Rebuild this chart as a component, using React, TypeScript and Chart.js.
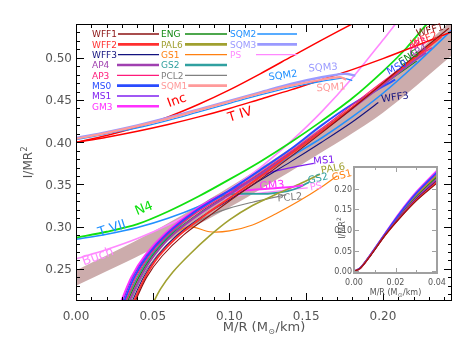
import React, { useEffect, useRef } from 'react';
import { Chart, registerables } from 'chart.js';
Chart.register(...registerables);

type P = [number, number];

// ---------- tick labels ----------
const X_TICK_LABELS = ['0.00', '0.05', '0.10', '0.15', '0.20'];
const Y_TICK_LABELS = ['0.25', '0.30', '0.35', '0.40', '0.45', '0.50'];
const INSET_X_TICK_LABELS = ['0.00', '0.02', '0.04'];
const INSET_Y_TICK_LABELS = ['0.00', '0.05', '0.10', '0.15', '0.20'];

// ---------- analytic / fit curves (x = M/R, y = I/MR^2) ----------
const INC: P[] = [[0, 0.400], [0.02, 0.408], [0.04, 0.418], [0.06, 0.430], [0.08, 0.445], [0.10, 0.462], [0.12, 0.481], [0.14, 0.501], [0.16, 0.521], [0.182, 0.542]];
const TIV: P[] = [[0, 0.400], [0.02, 0.406], [0.04, 0.413], [0.06, 0.421], [0.08, 0.430], [0.10, 0.440], [0.12, 0.451], [0.14, 0.462], [0.16, 0.474], [0.18, 0.486], [0.20, 0.499], [0.22, 0.513], [0.245, 0.531]];
const N4: P[] = [[0, 0.287], [0.02, 0.294], [0.04, 0.303], [0.06, 0.318], [0.08, 0.336], [0.10, 0.356], [0.12, 0.377], [0.14, 0.400], [0.16, 0.425], [0.18, 0.452], [0.20, 0.484], [0.215, 0.511], [0.229, 0.541]];
const TVII: P[] = [[0, 0.285], [0.02, 0.291], [0.04, 0.299], [0.06, 0.310], [0.08, 0.324], [0.10, 0.341], [0.12, 0.361], [0.14, 0.383], [0.16, 0.405], [0.18, 0.430], [0.20, 0.458], [0.22, 0.490], [0.245, 0.533]];
const BUCH: P[] = [[0, 0.262], [0.02, 0.273], [0.04, 0.286], [0.06, 0.302], [0.08, 0.321], [0.10, 0.344], [0.12, 0.370], [0.14, 0.401], [0.16, 0.436], [0.18, 0.476], [0.20, 0.521], [0.209, 0.542]];
const BAND_LO: P[] = [[0, 0.230], [0.05, 0.274], [0.10, 0.323], [0.15, 0.377], [0.20, 0.435], [0.245, 0.503]];
const BAND_HI: P[] = [[0, 0.248], [0.05, 0.294], [0.10, 0.347], [0.15, 0.405], [0.20, 0.470], [0.245, 0.545]];

// ---------- strange quark stars ----------
const SQM1: P[] = [[0, 0.404], [0.02, 0.411], [0.04, 0.419], [0.06, 0.428], [0.08, 0.438], [0.10, 0.448], [0.12, 0.458], [0.14, 0.467], [0.16, 0.474], [0.172, 0.477], [0.176, 0.474]];
const SQM2: P[] = [[0, 0.403], [0.02, 0.410], [0.04, 0.417], [0.06, 0.426], [0.08, 0.436], [0.10, 0.446], [0.12, 0.456], [0.14, 0.465], [0.16, 0.472], [0.174, 0.476], [0.180, 0.473]];
const SQM3: P[] = [[0, 0.405], [0.02, 0.412], [0.04, 0.420], [0.06, 0.429], [0.08, 0.439], [0.10, 0.449], [0.12, 0.459], [0.14, 0.469], [0.16, 0.477], [0.175, 0.481], [0.182, 0.479]];

// ---------- neutron star EOS ----------
const WFF1: P[] = [[0.037, 0.205], [0.046, 0.240], [0.056, 0.265], [0.070, 0.290], [0.087, 0.313], [0.102, 0.333], [0.120, 0.356], [0.140, 0.383], [0.160, 0.411], [0.180, 0.440], [0.200, 0.470], [0.220, 0.501], [0.243, 0.535]];
const WFF2: P[] = [[0.036, 0.205], [0.045, 0.240], [0.054, 0.265], [0.068, 0.291], [0.085, 0.315], [0.101, 0.335], [0.120, 0.359], [0.140, 0.386], [0.160, 0.413], [0.180, 0.441], [0.200, 0.470], [0.220, 0.499], [0.238, 0.525]];
const WFF3: P[] = [[0.035, 0.205], [0.044, 0.240], [0.053, 0.265], [0.066, 0.290], [0.083, 0.313], [0.100, 0.332], [0.120, 0.355], [0.140, 0.377], [0.160, 0.400], [0.180, 0.424], [0.197, 0.447]];
const AP4: P[] = [[0.033, 0.205], [0.042, 0.240], [0.051, 0.266], [0.064, 0.292], [0.082, 0.317], [0.100, 0.338], [0.120, 0.362], [0.140, 0.387], [0.160, 0.413], [0.180, 0.440], [0.200, 0.468], [0.220, 0.496], [0.228, 0.506]];
const AP3: P[] = [[0.031, 0.205], [0.039, 0.240], [0.048, 0.266], [0.061, 0.292], [0.079, 0.317], [0.100, 0.340], [0.120, 0.364], [0.140, 0.389], [0.160, 0.416], [0.180, 0.444], [0.200, 0.472], [0.220, 0.499], [0.232, 0.512]];
const MS0: P[] = [[0.030, 0.205], [0.038, 0.240], [0.047, 0.266], [0.060, 0.292], [0.078, 0.318], [0.100, 0.343], [0.120, 0.367], [0.140, 0.392], [0.160, 0.420], [0.180, 0.445], [0.200, 0.466], [0.208, 0.474]];
const MS1: P[] = [[0.029, 0.205], [0.037, 0.240], [0.046, 0.266], [0.059, 0.292], [0.077, 0.318], [0.095, 0.338], [0.105, 0.347], [0.115, 0.356], [0.126, 0.364], [0.140, 0.370], [0.155, 0.375]];
const GM3: P[] = [[0.028, 0.205], [0.036, 0.240], [0.045, 0.266], [0.058, 0.292], [0.076, 0.318], [0.095, 0.338], [0.110, 0.343], [0.125, 0.345], [0.140, 0.347], [0.148, 0.349]];
const ENG: P[] = [[0.032, 0.205], [0.041, 0.240], [0.050, 0.266], [0.063, 0.292], [0.081, 0.317], [0.100, 0.339], [0.120, 0.363], [0.140, 0.388], [0.160, 0.414], [0.180, 0.441], [0.200, 0.468], [0.222, 0.496]];
const PAL6: P[] = [[0.049, 0.205], [0.055, 0.226], [0.063, 0.246], [0.074, 0.267], [0.087, 0.289], [0.100, 0.308], [0.115, 0.325], [0.130, 0.338], [0.145, 0.350], [0.159, 0.362]];
const GS1: P[] = [[0.032, 0.205], [0.041, 0.240], [0.050, 0.265], [0.063, 0.290], [0.074, 0.300], [0.087, 0.294], [0.100, 0.295], [0.115, 0.302], [0.130, 0.315], [0.145, 0.330], [0.160, 0.347], [0.170, 0.360]];
const GS2: P[] = [[0.031, 0.205], [0.040, 0.240], [0.049, 0.266], [0.062, 0.292], [0.078, 0.318], [0.088, 0.332], [0.098, 0.338], [0.110, 0.339], [0.125, 0.339], [0.138, 0.342], [0.146, 0.347], [0.152, 0.353]];
const PCL2: P[] = [[0.034, 0.205], [0.043, 0.240], [0.052, 0.264], [0.064, 0.287], [0.076, 0.302], [0.088, 0.314], [0.100, 0.322], [0.115, 0.329], [0.130, 0.335], [0.137, 0.338]];
const PS: P[] = [[0.030, 0.205], [0.038, 0.240], [0.047, 0.266], [0.060, 0.292], [0.078, 0.316], [0.095, 0.332], [0.110, 0.338], [0.125, 0.341], [0.140, 0.344], [0.151, 0.346]];

// ---------- inset (low compactness) ----------
const INSET_X = [0, 0.003, 0.008, 0.015, 0.022, 0.030, 0.040];
const IN_GM3 = [0, 0.008, 0.041, 0.092, 0.142, 0.192, 0.244];
const IN_PS = [0, 0.008, 0.041, 0.092, 0.141, 0.190, 0.242];
const IN_MS0 = [0, 0.008, 0.041, 0.091, 0.140, 0.189, 0.240];
const IN_MS1 = [0, 0.008, 0.040, 0.091, 0.138, 0.187, 0.237];
const IN_GS1 = [0, 0.008, 0.040, 0.090, 0.137, 0.185, 0.235];
const IN_GS2 = [0, 0.008, 0.040, 0.090, 0.136, 0.184, 0.233];
const IN_PAL6 = [0, 0.008, 0.040, 0.089, 0.135, 0.182, 0.230];
const IN_ENG = [0, 0.008, 0.040, 0.089, 0.134, 0.180, 0.228];
const IN_PCL2 = [0, 0.008, 0.040, 0.089, 0.133, 0.179, 0.226];
const IN_AP4 = [0, 0.007, 0.039, 0.088, 0.132, 0.177, 0.224];
const IN_AP3 = [0, 0.007, 0.039, 0.088, 0.131, 0.176, 0.222];
const IN_WFF3 = [0, 0.007, 0.039, 0.088, 0.130, 0.174, 0.219];
const IN_WFF2 = [0, 0.007, 0.039, 0.087, 0.129, 0.172, 0.216];
const IN_WFF1 = [0, 0.007, 0.038, 0.087, 0.128, 0.170, 0.213];

// ---------- styles ----------
const STYLE: Record<string, { color: string; width: number }> = {
  WFF1: { color: '#8b1212', width: 1.1 },
  WFF2: { color: '#ff3030', width: 2.0 },
  WFF3: { color: '#12127f', width: 1.1 },
  AP4: { color: '#a040b0', width: 2.0 },
  AP3: { color: '#ff1a7a', width: 1.1 },
  MS0: { color: '#2a4bff', width: 2.0 },
  MS1: { color: '#8020f0', width: 1.2 },
  GM3: { color: '#ff30ff', width: 2.0 },
  ENG: { color: '#128a12', width: 1.1 },
  PAL6: { color: '#a0a030', width: 1.6 },
  GS1: { color: '#ff8010', width: 1.2 },
  GS2: { color: '#30a0a0', width: 1.8 },
  PCL2: { color: '#808080', width: 1.1 },
  SQM1: { color: '#ff9a9a', width: 2.2 },
  SQM2: { color: '#2090ff', width: 1.3 },
  SQM3: { color: '#9a9aff', width: 2.4 },
  PS: { color: '#ff88ff', width: 1.2 },
};

const EOS_MAIN: [string, P[]][] = [
  ['WFF1', WFF1], ['WFF2', WFF2], ['WFF3', WFF3], ['AP4', AP4], ['AP3', AP3], ['MS0', MS0], ['MS1', MS1], ['GM3', GM3],
  ['ENG', ENG], ['PAL6', PAL6], ['GS1', GS1], ['GS2', GS2], ['PCL2', PCL2], ['PS', PS],
  ['SQM1', SQM1], ['SQM2', SQM2], ['SQM3', SQM3],
];
const EOS_INSET: [string, number[]][] = [
  ['WFF1', IN_WFF1], ['WFF2', IN_WFF2], ['WFF3', IN_WFF3], ['AP4', IN_AP4], ['AP3', IN_AP3], ['MS0', IN_MS0], ['MS1', IN_MS1], ['GM3', IN_GM3],
  ['ENG', IN_ENG], ['PAL6', IN_PAL6], ['GS1', IN_GS1], ['GS2', IN_GS2], ['PCL2', IN_PCL2], ['PS', IN_PS],
];

const LEGEND_COLUMNS = [
  ['WFF1', 'WFF2', 'WFF3', 'AP4', 'AP3', 'MS0', 'MS1', 'GM3'],
  ['ENG', 'PAL6', 'GS1', 'GS2', 'PCL2', 'SQM1'],
  ['SQM2', 'SQM3', 'PS'],
];
const LEGEND_LAYOUT = { colX: [92, 161, 230], lineStart: [117, 185, 256], lineEnd: [159, 227, 297], row0: 34, rowStep: 10.33 };
const LEGEND_WIDTH: Record<string, number> = { WFF2: 2.6, AP4: 2.6, MS0: 2.6, GM3: 2.6, PAL6: 2.6, GS2: 2.6, SQM1: 2.6, SQM3: 2.6 };

// in-plot labels (data coordinates)
const ANNOTATIONS = [
  { text: 'Inc', x: 0.0658, y: 0.449, rot: -20, color: '#ff0000', size: 13 },
  { text: 'T IV', x: 0.1069, y: 0.4325, rot: -17, color: '#ff0000', size: 13 },
  { text: 'SQM2', x: 0.1349, y: 0.4787, rot: -8, color: '#2090ff', size: 10 },
  { text: 'SQM3', x: 0.161, y: 0.488, rot: -4, color: '#9a9aff', size: 10 },
  { text: 'SQM1', x: 0.1662, y: 0.4645, rot: -4, color: '#ff9a9a', size: 10 },
  { text: 'N4', x: 0.0443, y: 0.3212, rot: -22, color: '#10e010', size: 13 },
  { text: 'T VII', x: 0.0235, y: 0.2975, rot: -18, color: '#2090ff', size: 13 },
  { text: 'Buch', x: 0.0143, y: 0.2643, rot: -20, color: '#ff88ff', size: 13 },
  { text: 'MS1', x: 0.1616, y: 0.378, rot: -5, color: '#8020f0', size: 10 },
  { text: 'PAL6', x: 0.1675, y: 0.3685, rot: -10, color: '#a0a030', size: 10 },
  { text: 'GS1', x: 0.1733, y: 0.3603, rot: -14, color: '#ff8010', size: 10 },
  { text: 'GS2', x: 0.1577, y: 0.3567, rot: -14, color: '#30a0a0', size: 10 },
  { text: 'PS', x: 0.1564, y: 0.3472, rot: -10, color: '#ff88ff', size: 10 },
  { text: 'GM3', x: 0.1277, y: 0.3484, rot: -5, color: '#ff30ff', size: 11 },
  { text: 'PCL2', x: 0.1394, y: 0.3342, rot: -5, color: '#808080', size: 10 },
  { text: 'WFF1', x: 0.2307, y: 0.532, rot: -15, color: '#8b1212', size: 10 },
  { text: 'WFF2', x: 0.2268, y: 0.5213, rot: -20, color: '#ff3030', size: 10 },
  { text: 'AP3', x: 0.2228, y: 0.5154, rot: -28, color: '#ff1a7a', size: 10 },
  { text: 'AP4', x: 0.2228, y: 0.5071, rot: -28, color: '#a040b0', size: 10 },
  { text: 'ENG', x: 0.217, y: 0.50, rot: -32, color: '#128a12', size: 10 },
  { text: 'MS0', x: 0.2092, y: 0.4882, rot: -28, color: '#2a4bff', size: 10 },
  { text: 'WFF3', x: 0.2079, y: 0.4527, rot: -8, color: '#12127f', size: 10 },
];

const FONT = '"DejaVu Sans", sans-serif';
const TEXT_GREY = '#555555';

const line = (ctx: CanvasRenderingContext2D, x1: number, y1: number, x2: number, y2: number) => {
  ctx.beginPath(); ctx.moveTo(x1, y1); ctx.lineTo(x2, y2); ctx.stroke();
};

const mkLine = (pts: { x: number; y: number }[], color: string, width: number, extra: any = {}) => ({
  data: pts, borderColor: color, backgroundColor: color, borderWidth: width,
  pointRadius: 0, showLine: true, tension: 0.3, fill: false, ...extra,
});
const toXY = (pts: P[]) => pts.map(([x, y]) => ({ x, y }));

const mainDecor = {
  id: 'mainDecor',
  afterDraw(chart: any) {
    const { ctx, chartArea: a } = chart;
    const xs = chart.scales.x, ys = chart.scales.y;
    ctx.save();
    ctx.strokeStyle = '#000'; ctx.lineWidth = 1;
    ctx.strokeRect(a.left + 0.5, a.top + 0.5, a.right - a.left - 1, a.bottom - a.top - 1);
    for (let i = 0; i <= 24; i++) {
      const px = Math.round(xs.getPixelForValue(i / 100)) + 0.5;
      const len = i % 5 === 0 ? 8 : 4;
      line(ctx, px, a.bottom, px, a.bottom - len);
      line(ctx, px, a.top, px, a.top + len);
    }
    for (let i = 22; i <= 54; i++) {
      const py = Math.round(ys.getPixelForValue(i / 100)) + 0.5;
      const len = i % 5 === 0 ? 8 : 4;
      line(ctx, a.left, py, a.left + len, py);
      line(ctx, a.right, py, a.right - len, py);
    }
    ctx.fillStyle = TEXT_GREY;
    ctx.font = `12px ${FONT}`;
    ctx.textAlign = 'center'; ctx.textBaseline = 'alphabetic';
    X_TICK_LABELS.forEach((l) => ctx.fillText(l, xs.getPixelForValue(parseFloat(l)), a.bottom + 18.5));
    ctx.textAlign = 'right';
    Y_TICK_LABELS.forEach((l) => ctx.fillText(l, a.left - 4, ys.getPixelForValue(parseFloat(l)) + 4.4));
    ctx.textAlign = 'left';
    const cx = (a.left + a.right) / 2;
    ctx.font = `13px ${FONT}`;
    const t1 = 'M/R (M', t3 = '/km)';
    const w1 = ctx.measureText(t1).width, w3 = ctx.measureText(t3).width;
    ctx.font = `8px ${FONT}`;
    const w2 = ctx.measureText('\u2299').width + 1;
    const sx = cx - (w1 + w2 + w3) / 2;
    const by = a.bottom + 29.5;
    ctx.font = `13px ${FONT}`; ctx.fillText(t1, sx, by);
    ctx.font = `8px ${FONT}`; ctx.fillText('\u2299', sx + w1 + 0.5, by + 3);
    ctx.font = `13px ${FONT}`; ctx.fillText(t3, sx + w1 + w2, by);
    ctx.save();
    ctx.translate(28, (a.top + a.bottom) / 2);
    ctx.rotate(-Math.PI / 2);
    ctx.font = `12px ${FONT}`;
    const ya = 'I/MR';
    const wa = ctx.measureText(ya).width;
    ctx.font = `8px ${FONT}`;
    const wb = ctx.measureText('2').width;
    ctx.font = `12px ${FONT}`;
    ctx.fillText(ya, -(wa + wb) / 2, 4.4);
    ctx.font = `8px ${FONT}`;
    ctx.fillText('2', -(wa + wb) / 2 + wa + 0.5, -1.5);
    ctx.restore();
    ctx.font = `9px ${FONT}`;
    ctx.textAlign = 'left';
    LEGEND_COLUMNS.forEach((col, ci) => {
      col.forEach((name, ri) => {
        const st = STYLE[name];
        const y = LEGEND_LAYOUT.row0 + ri * LEGEND_LAYOUT.rowStep;
        const x = LEGEND_LAYOUT.colX[ci];
        ctx.fillStyle = st.color;
        ctx.fillText(name, x, y + 3.3);
        const tw = ctx.measureText(name).width;
        ctx.strokeStyle = st.color;
        ctx.lineWidth = LEGEND_WIDTH[name] ?? 1.3;
        const ls = Math.max(LEGEND_LAYOUT.lineStart[ci], x + tw + 1);
        line(ctx, ls, y, LEGEND_LAYOUT.lineEnd[ci], y);
      });
    });
    ctx.textAlign = 'center'; ctx.textBaseline = 'middle';
    ANNOTATIONS.forEach((an) => {
      ctx.save();
      ctx.translate(xs.getPixelForValue(an.x), ys.getPixelForValue(an.y));
      ctx.rotate((an.rot * Math.PI) / 180);
      ctx.font = `${an.size}px ${FONT}`;
      ctx.fillStyle = an.color;
      ctx.fillText(an.text, 0, 0);
      ctx.restore();
    });
    ctx.restore();
  },
};

const insetDecor = {
  id: 'insetDecor',
  beforeDatasetsDraw(chart: any) {
    const { ctx, chartArea: a } = chart;
    ctx.save();
    ctx.fillStyle = '#ffffff';
    ctx.fillRect(a.left, a.top, a.right - a.left, a.bottom - a.top);
    ctx.restore();
  },
  afterDraw(chart: any) {
    const { ctx, chartArea: a } = chart;
    const xs = chart.scales.x, ys = chart.scales.y;
    ctx.save();
    ctx.strokeStyle = '#a0a0a0'; ctx.lineWidth = 2;
    ctx.strokeRect(a.left, a.top, a.right - a.left, a.bottom - a.top);
    ctx.lineWidth = 1;
    for (let i = 0; i <= 4; i++) {
      const px = Math.round(xs.getPixelForValue(i / 100)) + 0.5;
      const len = i % 2 === 0 ? 5 : 3;
      line(ctx, px, a.bottom, px, a.bottom - len);
      line(ctx, px, a.top, px, a.top + len);
    }
    INSET_Y_TICK_LABELS.forEach((l) => {
      const py = Math.round(ys.getPixelForValue(parseFloat(l))) + 0.5;
      line(ctx, a.left, py, a.left + 5, py);
      line(ctx, a.right, py, a.right - 5, py);
    });
    ctx.fillStyle = TEXT_GREY;
    ctx.font = `8px ${FONT}`;
    ctx.textAlign = 'center'; ctx.textBaseline = 'alphabetic';
    INSET_X_TICK_LABELS.forEach((l) => ctx.fillText(l, xs.getPixelForValue(parseFloat(l)), a.bottom + 12));
    ctx.textAlign = 'right';
    INSET_Y_TICK_LABELS.forEach((l) => ctx.fillText(l, a.left - 2, ys.getPixelForValue(parseFloat(l)) + 3));
    ctx.textAlign = 'left';
    const cx = (a.left + a.right) / 2;
    const t1 = 'M/R (M', t3 = '/km)';
    ctx.font = `8px ${FONT}`;
    const w1 = ctx.measureText(t1).width, w3 = ctx.measureText(t3).width;
    ctx.font = `6px ${FONT}`;
    const w2 = ctx.measureText('\u2299').width + 0.5;
    const sx = cx - (w1 + w2 + w3) / 2;
    const by = a.bottom + 22;
    ctx.font = `8px ${FONT}`; ctx.fillText(t1, sx, by);
    ctx.font = `6px ${FONT}`; ctx.fillText('\u2299', sx + w1 + 0.3, by + 2);
    ctx.font = `8px ${FONT}`; ctx.fillText(t3, sx + w1 + w2, by);
    ctx.save();
    ctx.translate(a.left - 12, (a.top + a.bottom) / 2 + 8);
    ctx.rotate(-Math.PI / 2);
    ctx.font = `8px ${FONT}`;
    const wa = ctx.measureText('I/MR').width;
    ctx.fillText('I/MR', -(wa + 4) / 2, 3);
    ctx.font = `6px ${FONT}`;
    ctx.fillText('2', -(wa + 4) / 2 + wa + 0.3, -1);
    ctx.restore();
    ctx.restore();
  },
};

export default function App() {
  const mainRef = useRef<HTMLCanvasElement>(null);
  const insetRef = useRef<HTMLCanvasElement>(null);

  useEffect(() => {
    const eosSets = EOS_MAIN.map(([name, pts]) => mkLine(toXY(pts), STYLE[name].color, STYLE[name].width));
    const otherSets = [
      mkLine(toXY(INC), '#ff0000', 1.5),
      mkLine(toXY(TIV), '#ff0000', 1.5),
      mkLine(toXY(N4), '#10e010', 1.8),
      mkLine(toXY(TVII), '#2090ff', 1.6),
      mkLine(toXY(BUCH), '#ff88ff', 1.6),
    ];
    const base = eosSets.length + otherSets.length;
    const bandSets = [
      mkLine(toXY(BAND_LO), 'rgba(0,0,0,0)', 0, { order: 100, backgroundColor: 'rgb(204,172,172)' }),
      mkLine(toXY(BAND_HI), 'rgba(0,0,0,0)', 0, { order: 100, backgroundColor: 'rgb(204,172,172)', fill: { target: base } }),
    ];
    const main = new Chart(mainRef.current as HTMLCanvasElement, {
      type: 'scatter',
      data: { datasets: [...eosSets, ...otherSets, ...bandSets] as any },
      options: {
        responsive: false,
        animation: false,
        devicePixelRatio: 1,
        events: [],
        layout: { padding: { left: 76, right: 23, top: 24, bottom: 49 } },
        scales: {
          x: { type: 'linear', min: 0, max: 0.245, display: false },
          y: { type: 'linear', min: 0.212, max: 0.540, display: false },
        },
        plugins: {
          legend: { display: false },
          tooltip: { enabled: false },
          filler: { propagate: false, drawTime: 'beforeDatasetsDraw' } as any,
        },
      },
      plugins: [mainDecor],
    });

    const insetSets = EOS_INSET.map(([name, ys]) =>
      mkLine(INSET_X.map((x, i) => ({ x, y: ys[i] })), STYLE[name].color, Math.min(STYLE[name].width, 1.5)));
    const inset = new Chart(insetRef.current as HTMLCanvasElement, {
      type: 'scatter',
      data: { datasets: insetSets as any },
      options: {
        responsive: false,
        animation: false,
        devicePixelRatio: 1,
        events: [],
        layout: { padding: { left: 354, right: 38, top: 167, bottom: 77 } },
        scales: {
          x: { type: 'linear', min: 0, max: 0.04, display: false },
          y: { type: 'linear', min: -0.004, max: 0.252, display: false },
        },
        plugins: { legend: { display: false }, tooltip: { enabled: false } },
      },
      plugins: [insetDecor],
    });
    return () => { main.destroy(); inset.destroy(); };
  }, []);

  return (
    <div style={{ position: 'fixed', left: 0, top: 0, width: 475, height: 350, background: '#ffffff' }}>
      <canvas ref={mainRef} width={475} height={350} style={{ position: 'absolute', left: 0, top: 0, width: 475, height: 350 }} />
      <canvas ref={insetRef} width={475} height={350} style={{ position: 'absolute', left: 0, top: 0, width: 475, height: 350 }} />
    </div>
  );
}
